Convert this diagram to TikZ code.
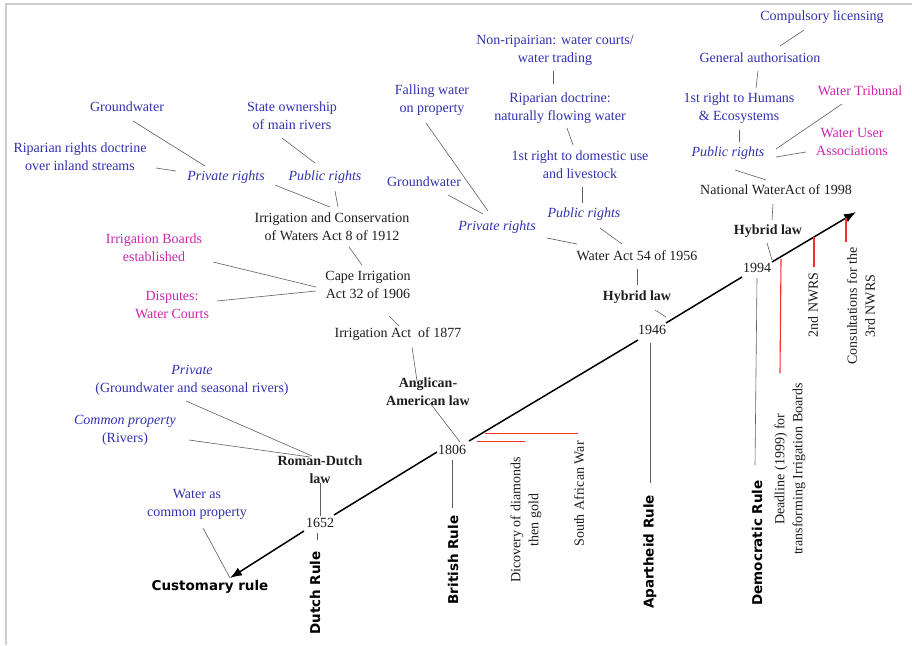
\documentclass[tikz,border=0pt]{standalone}
\usepackage{fontspec}
\setmainfont{Liberation Serif}
\newfontfamily\rulefont{DejaVu Sans}
\usetikzlibrary{arrows.meta}

\definecolor{ink}{RGB}{30,30,30}
\definecolor{rightsblue}{RGB}{50,50,175}
\definecolor{instmag}{RGB}{200,40,170}
\definecolor{linkgray}{RGB}{95,95,95}
\definecolor{framegray}{RGB}{205,205,205}
\definecolor{eventred}{RGB}{240,50,50}

\tikzset{
  lbl/.style={font=\fontsize{14}{18}\selectfont, text=ink, align=center, inner sep=1pt},
  bluelbl/.style={lbl, text=rightsblue},
  maglbl/.style={lbl, text=instmag},
  lawlbl/.style={lbl, font=\fontsize{14}{18}\selectfont\bfseries},
  era/.style={font=\rulefont\bfseries\fontsize{13.5}{16}\selectfont, text=black, inner sep=1pt},
  vlbl/.style={lbl, rotate=90},
  link/.style={draw=linkgray, line width=0.6pt},
  timeline/.style={draw=black, line width=1.5pt},
  tip/.style={-{Latex[length=12pt,width=9pt]}},
  eventline/.style={draw=eventred, line width=1.1pt},
  eventbar/.style={fill=eventred, draw=none},
}
% connector between two nodes, each end given as an offset from the node centre
\newcommand\wlink[4]{\draw[link] ([shift={(#2)}]#1.center) -- ([shift={(#4)}]#3.center);}

\begin{document}
\begin{tikzpicture}[x=1pt, y=-1pt]
\fill[white] (0,0) rectangle (912,645);
\useasboundingbox (0,0) rectangle (912,645);
\draw[framegray, line width=1.5pt] (6,645) -- (6,4) -- (912,4);

% ---------------- years on the time axis ----------------
\node[lbl] (y1652) at (320,523) {1652};
\node[lbl] (y1806) at (452,450) {1806};
\node[lbl] (y1946) at (652,330) {1946};
\node[lbl] (y1994) at (757,268) {1994};
\node[era] (cust) at (210,587) {Customary rule};
\coordinate (custtip) at (230,578);
\coordinate (axisend) at (856,212);

% ---------------- eras ----------------
\node[era, rotate=90] (dutch) at (315,593) {Dutch Rule};
\node[era, rotate=90] (brit) at (453,560) {British Rule};
\node[era, rotate=90] (apart) at (650,552) {Apartheid Rule};
\node[era, rotate=90] (demo) at (757,543) {Democratic Rule};

% ---------------- Dutch period ----------------
\node[lawlbl] (rdl) at (320,470) {Roman-Dutch\\law};
\node[bluelbl] (privB) at (192,380) {\textit{Private}\\(Groundwater and seasonal rivers)};
\node[bluelbl] (comB) at (125,430) {\textit{Common property}\\(Rivers)};
\node[bluelbl] (wacp) at (197,504) {Water as\\common property};

% ---------------- British period ----------------
\node[lawlbl] (angl) at (428,392) {Anglican-\\American law};
\node[lbl] (ia77) at (398,334) {Irrigation Act~ of 1877};
\node[lbl] (cape) at (368,285) {Cape Irrigation\\Act 32 of 1906};
\node[maglbl] (ibA) at (154,248) {Irrigation Boards\\established};
\node[maglbl] (disp) at (172,305) {Disputes:\\Water Courts};
\node[lbl] (ica) at (332,227) {Irrigation and Conservation\\of Waters Act 8 of 1912};
\node[bluelbl, font=\fontsize{14}{18}\selectfont\itshape] (prA) at (226,177) {Private rights};
\node[bluelbl, font=\fontsize{14}{18}\selectfont\itshape] (pubA) at (325,177) {Public rights};
\node[bluelbl] (gwA) at (127,107) {Groundwater};
\node[bluelbl] (ripA) at (80,157) {Riparian rights doctrine\\over inland streams};
\node[bluelbl] (stateA) at (292,116) {State ownership\\of main rivers};
\node[vlbl] (disc) at (526,520) {Dicovery of diamonds\\then gold};
\node[vlbl] (saw) at (579,494) {South African War};

% ---------------- Apartheid period ----------------
\node[lawlbl] (hyb1) at (637,297) {Hybrid law};
\node[lbl] (wa56) at (637,256) {Water Act 54 of 1956};
\node[bluelbl, font=\fontsize{14}{18}\selectfont\itshape] (prC) at (497,227) {Private rights};
\node[bluelbl, font=\fontsize{14}{18}\selectfont\itshape] (pubC) at (584,214) {Public rights};
\node[bluelbl] (gwC) at (424,182) {Groundwater};
\node[bluelbl] (fall) at (432,100) {Falling water\\on property};
\node[bluelbl] (first) at (580,165) {1st right to domestic use\\and livestock};
\node[bluelbl] (ripdoc) at (560,108) {Riparian doctrine:\\naturally flowing water};
\node[bluelbl] (nonrip) at (555,50) {Non-ripairian: water courts/\\water trading};

% ---------------- Democratic period ----------------
\node[lawlbl] (hyb2) at (768,231) {Hybrid law};
\node[lbl] (nwa) at (776,190) {National WaterAct of 1998};
\node[bluelbl, font=\fontsize{14}{18}\selectfont\itshape] (pubD) at (728,153) {Public rights};
\node[bluelbl] (hum) at (739,108) {1st right to Humans\\\& Ecosystems};
\node[bluelbl] (gen) at (760,58) {General authorisation};
\node[bluelbl] (comp) at (822,17) {Compulsory licensing};
\node[maglbl] (trib) at (860,91) {Water Tribunal};
\node[maglbl] (wua) at (852,142) {Water User\\Associations};
\node[vlbl] (dead) at (790,469) {Deadline (1999) for\\transforming Irrigation Boards};
\node[vlbl] (nwrs2) at (813,305) {2nd NWRS};
\node[vlbl] (nwrs3) at (861,306) {Consultations for the\\3rd NWRS};

% ---------------- time axis ----------------
\draw[timeline, tip] ([shift={(-16,8)}]y1652.center) -- (custtip);
\draw[timeline] ([shift={(14,-8)}]y1652.center) -- ([shift={(-15,2)}]y1806.center);
\draw[timeline] ([shift={(17,-9)}]y1806.center) -- ([shift={(-14,10)}]y1946.center);
\draw[timeline] ([shift={(14,-7)}]y1946.center) -- ([shift={(-15,9)}]y1994.center);
\draw[timeline, tip] ([shift={(15,-6)}]y1994.center) -- (axisend);

% ---------------- events ----------------
% short red bars leaving the axis after 1806
\coordinate (ev1) at (485,432.5);
\coordinate (ev2) at (477,440.5);
\fill[eventbar] (ev1) rectangle ++(93,1.3);
\fill[eventbar] (ev2) rectangle ++(48,1.3);
% red ticks hanging from the axis after 1994
\coordinate (ev3) at (781,259);
\coordinate (ev4) at (814,237);
\coordinate (ev5) at (846,218);
\draw[eventline] (ev3) -- (780,373);
\draw[eventline] (ev4) -- (814,267);
\draw[eventline] (ev5) -- (846,242);

% ---------------- connectors ----------------
\wlink{wacp}{6,24}{cust}{20,-9}
\wlink{privB}{-6,21}{rdl}{-8,-14}
\wlink{comB}{64,10}{rdl}{-10,-13}
\wlink{rdl}{0,13}{y1652}{0,-7}
\wlink{y1652}{-3,10}{dutch}{2,-53}
\wlink{y1806}{0,10}{brit}{-1,-52}
\wlink{angl}{2,11}{y1806}{8,-8}
\wlink{ia77}{14,13}{angl}{-11,-11}
\wlink{cape}{21,31}{ia77}{1,-8}
\wlink{ibA}{59,14}{cape}{-52,2}
\wlink{disp}{45,-4}{cape}{-52,6}
\wlink{ica}{17,20}{cape}{-6,-20}
\wlink{prA}{49,8}{ica}{-2,-20}
\wlink{pubA}{10,14}{ica}{6,-20}
\wlink{gwA}{6,14}{prA}{-21,-11}
\wlink{ripA}{76,11}{prA}{-50,-6}
\wlink{stateA}{-10,22}{pubA}{-10,-14}
\wlink{y1946}{-2,13}{apart}{0,-69}
\wlink{hyb1}{18,13}{y1946}{14,-13}
\wlink{wa56}{0,13}{hyb1}{0,-12}
\wlink{prC}{50,11}{wa56}{-60,-12}
\wlink{pubC}{16,14}{wa56}{-15,-12}
\wlink{first}{2,22}{pubC}{-2,-11}
\wlink{ripdoc}{7,20}{first}{-7,-20}
\wlink{nonrip}{-2,21}{ripdoc}{-7,-24}
\wlink{fall}{-6,23}{prC}{-9,-16}
\wlink{gwC}{24,13}{prC}{-14,-13}
\wlink{comp}{-18,13}{gen}{20,-12}
\wlink{gen}{-2,13}{hum}{17,-20}
\wlink{hum}{0,22}{pubD}{11,-11}
\wlink{trib}{-18,13}{pubD}{48,-4}
\wlink{wua}{-46,10}{pubD}{48,4}
\wlink{pubD}{7,17}{nwa}{-10,-10}
\wlink{nwa}{-3,14}{hyb2}{4,-11}
\wlink{hyb2}{-1,12}{y1994}{15,-8}
\wlink{y1994}{0,10}{demo}{-2,-78}
\end{tikzpicture}
\end{document}
